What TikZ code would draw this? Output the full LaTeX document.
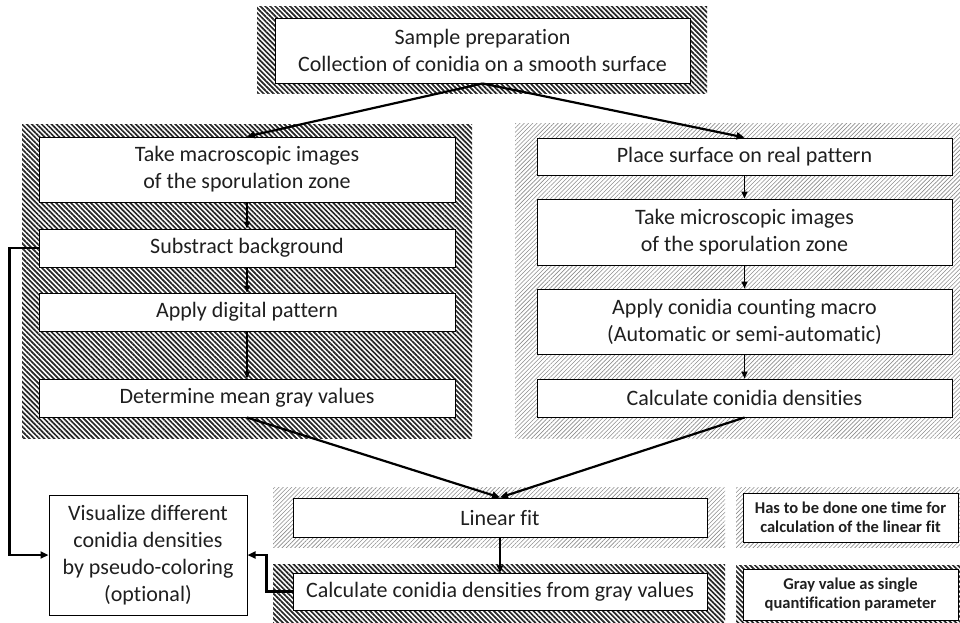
\documentclass[tikz,border=0pt]{standalone}
\usepackage{fontspec}
\setmainfont[Ligatures=NoCommon]{Carlito}
\usetikzlibrary{arrows.meta,patterns.meta}

\begin{document}
\begin{tikzpicture}[x=1pt,y=-1pt,
  box/.style={draw, line width=1pt, fill=white, align=center, inner sep=0pt,
    text=black!88, font=\fontsize{22}{27}\selectfont},
  note/.style={box, font=\fontsize{16.5}{19}\selectfont\bfseries},
  dark/.style={pattern={Lines[angle=-45,distance=3.5pt,line width=1.7pt]}, pattern color=black!85},
  light/.style={pattern={Lines[angle=45,distance=3pt,line width=0.6pt]}, pattern color=black!45},
  flow/.style={-{Triangle[length=8pt,width=7pt]}, line width=2.2pt},
  link/.style={-{Triangle[length=7pt,width=6pt]}, line width=1.6pt}]
\useasboundingbox (0,0) rectangle (960,622);

% hatched panels
\fill[dark] (257,6) rectangle (707,93);
\fill[dark] (22,124) rectangle (472,438);
\fill[light] (515,123) rectangle (960,438);
\fill[light] (273,487) rectangle (725,547);
\fill[dark] (273,564) rectangle (725,622);
\fill[light] (736,487) rectangle (960,547);
\fill[dark] (736,565) rectangle (960,622);

\node[box, minimum width=415, minimum height=65] (prep) at (482.5,50.5)
  {Sample preparation\\Collection of conidia on a smooth surface};

% left column: macroscopic images
\foreach \n/\y/\h/\t in {macro/169.5/65/{Take macroscopic images\\of the sporulation zone},
    subtr/248/38/{Substract background}, digit/312/38/{Apply digital pattern},
    gray/398/38/{Determine mean gray values}}{
  \node[box, minimum width=416, minimum height=\h] (\n) at (247,\y) {\t};
}
% right column: real pattern
\foreach \n/\y/\h/\t in {place/156.5/37/{Place surface on real pattern},
    micro/232/66/{Take microscopic images\\of the sporulation zone},
    count/321.5/65/{Apply conidia counting macro\\(Automatic or semi-automatic)},
    dens/398/38/{Calculate conidia densities}}{
  \node[box, minimum width=415, minimum height=\h] (\n) at (744.5,\y) {\t};
}

\node[box, minimum width=414, minimum height=39] (linfit) at (500,517.5) {Linear fit};
\node[box, minimum width=414, minimum height=37] (calc) at (500,591.5)
  {Calculate conidia densities from gray values};
\node[box, minimum width=198, minimum height=120] (visual) at (148,555)
  {Visualize different\\conidia densities\\by pseudo-coloring\\(optional)};
\node[note, minimum width=215, minimum height=49] (once) at (850.5,517.5)
  {Has to be done one time for\\calculation of the linear fit};
\node[note, minimum width=215, minimum height=51] (single) at (850.5,594.5)
  {Gray value as single\\quantification parameter};

\draw[flow] (prep.south) -- (macro.north);
\draw[flow] (prep.south) -- (place.north);
\foreach \a/\b in {macro/subtr, subtr/digit, digit/gray, place/micro, micro/count, count/dens, linfit/calc}
  \draw[link] (\a.south) -- (\b.north);
\draw[flow] (gray.south) -- (linfit.north);
\draw[flow] (dens.south) -- (linfit.north);
\draw[flow] (subtr.west) -- ++(-29,0) |- (visual.west);
\draw[flow] (calc.west) -- ++(-26,0) |- (visual.east);
\end{tikzpicture}
\end{document}
